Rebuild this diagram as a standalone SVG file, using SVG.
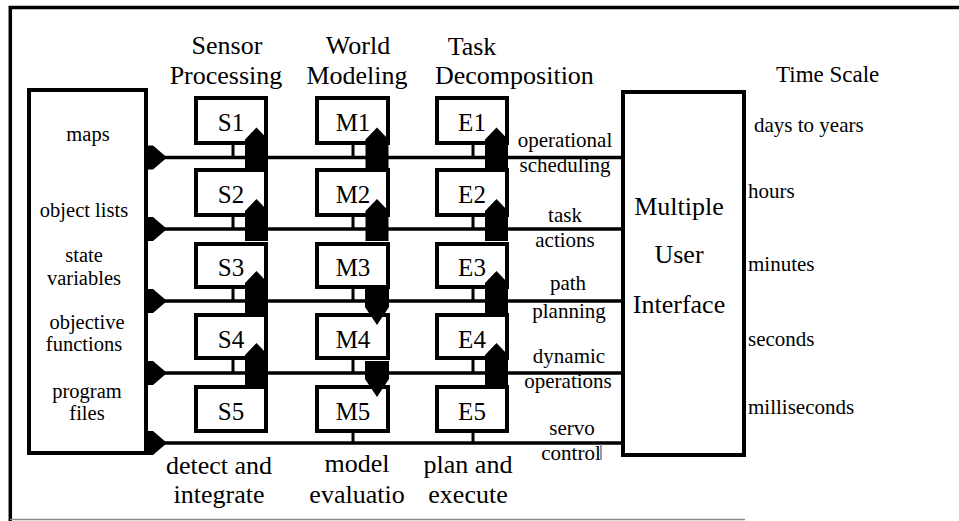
<svg xmlns="http://www.w3.org/2000/svg" width="959" height="521" viewBox="0 0 959 521" font-family="'Liberation Serif', 'Times New Roman', serif">
  <style>
    text { font-family: "Liberation Serif", "Times New Roman", serif; fill: #000; }
    .hd { font-size: 26px; text-anchor: middle; }
    .lb { font-size: 25px; text-anchor: middle; }
    .sm { font-size: 21px; text-anchor: middle; }
    .db { font-size: 20.5px; text-anchor: middle; }
    .ts { font-size: 21px; }
    .box { fill: #fff; stroke: #000; stroke-width: 4; }
    .bus { stroke: #000; stroke-width: 3.5; fill: none; }
    .tick { stroke: #000; stroke-width: 3; fill: none; }
    .blk { fill: #000; }
    .frame { stroke: #000; stroke-width: 3.5; fill: none; }
  </style>
  <defs>
    <!-- block arrows, origin at the bus line they sit on -->
    <path id="up" d="M-11.5,12 V-18 L0,-30 L11.5,-18 V12 Z"/>
    <path id="down" d="M-12,-12 H12 V6 L0,24 L-12,6 Z"/>
    <path id="tap" d="M0,-12 H7 L21,0 L7,12 H0 Z"/>
  </defs>

  <rect width="959" height="521" fill="#fff"/>

  <!-- outer frame -->
  <g id="frame">
    <path class="frame" d="M8.5,7.5 H959 M10.3,6 V521"/>
    <path d="M10,519.5 H745" stroke="#8a8a8a" stroke-width="1.5"/>
  </g>

  <!-- column headings -->
  <g id="headings">
    <text class="hd" x="227" y="54">Sensor</text>
    <text class="hd" x="226" y="84">Processing</text>
    <text class="hd" x="358" y="54">World</text>
    <text class="hd" x="357" y="84">Modeling</text>
    <text class="hd" x="472" y="55">Task</text>
    <text class="hd" x="435" y="84" style="text-anchor:start">Decomposition</text>
    <text x="776" y="82" style="font-size:23px">Time Scale</text>
  </g>

  <!-- knowledge database -->
  <g id="database">
    <rect class="box" x="29" y="90" width="117" height="363"/>
    <text class="db" x="88" y="141">maps</text>
    <text class="db" x="84" y="217">object lists</text>
    <text class="db" x="84" y="262">state</text>
    <text class="db" x="84" y="284.5">variables</text>
    <text class="db" x="87" y="329">objective</text>
    <text class="db" x="84" y="351">functions</text>
    <text class="db" x="87" y="398">program</text>
    <text class="db" x="87" y="420">files</text>
  </g>

  <!-- sensor processing modules -->
  <g id="S1"><rect class="box" x="196" y="98" width="70" height="45"/><text class="lb" x="231" y="131">S1</text></g>
  <g id="S2"><rect class="box" x="196" y="170" width="70" height="45"/><text class="lb" x="231" y="203">S2</text></g>
  <g id="S3"><rect class="box" x="196" y="244" width="70" height="43"/><text class="lb" x="231" y="276">S3</text></g>
  <g id="S4"><rect class="box" x="196" y="315" width="70" height="43"/><text class="lb" x="231" y="348">S4</text></g>
  <g id="S5"><rect class="box" x="196" y="387" width="70" height="44"/><text class="lb" x="231" y="420">S5</text></g>

  <!-- world modeling modules -->
  <g id="M1"><rect class="box" x="317" y="98" width="71" height="45"/><text class="lb" x="353" y="131">M1</text></g>
  <g id="M2"><rect class="box" x="317" y="170" width="71" height="45"/><text class="lb" x="353" y="203">M2</text></g>
  <g id="M3"><rect class="box" x="317" y="244" width="71" height="43"/><text class="lb" x="353" y="276">M3</text></g>
  <g id="M4"><rect class="box" x="317" y="315" width="71" height="43"/><text class="lb" x="353" y="348">M4</text></g>
  <g id="M5"><rect class="box" x="317" y="387" width="71" height="44"/><text class="lb" x="353" y="420">M5</text></g>

  <!-- task decomposition modules -->
  <g id="E1"><rect class="box" x="437" y="98" width="70" height="45"/><text class="lb" x="472" y="131">E1</text></g>
  <g id="E2"><rect class="box" x="437" y="170" width="70" height="45"/><text class="lb" x="472" y="203">E2</text></g>
  <g id="E3"><rect class="box" x="437" y="244" width="70" height="43"/><text class="lb" x="472" y="276">E3</text></g>
  <g id="E4"><rect class="box" x="437" y="315" width="70" height="43"/><text class="lb" x="472" y="348">E4</text></g>
  <g id="E5"><rect class="box" x="437" y="387" width="70" height="44"/><text class="lb" x="472" y="420">E5</text></g>

  <!-- operator interface -->
  <g id="interface">
    <rect class="box" x="623" y="92" width="121" height="363"/>
    <text class="hd" x="679" y="215">Multiple</text>
    <text class="hd" x="679" y="263">User</text>
    <text class="hd" x="679" y="313">Interface</text>
  </g>

  <!-- level names along the buses -->
  <g id="levels">
    <text class="sm" x="565" y="147">operational</text>
    <text class="sm" x="565" y="172">scheduling</text>
    <text class="sm" x="565" y="222">task</text>
    <text class="sm" x="565" y="247">actions</text>
    <text class="sm" x="568" y="290">path</text>
    <text class="sm" x="569" y="318">planning</text>
    <text class="sm" x="569" y="363">dynamic</text>
    <text class="sm" x="568" y="388">operations</text>
    <text class="sm" x="572" y="435">servo</text>
    <text class="sm" x="571" y="460">control</text>
  </g>

  <!-- time scale column -->
  <g id="timescale">
    <text class="ts" x="754" y="132">days to years</text>
    <text class="ts" x="748" y="198">hours</text>
    <text class="ts" x="748" y="271">minutes</text>
    <text class="ts" x="748" y="346">seconds</text>
    <text class="ts" x="748" y="414">milliseconds</text>
  </g>

  <!-- function captions -->
  <g id="captions">
    <text class="hd" x="219" y="474">detect and</text>
    <text class="hd" x="219" y="503">integrate</text>
    <text class="hd" x="357" y="472">model</text>
    <text class="hd" x="357" y="503">evaluatio</text>
    <text class="hd" x="468" y="473">plan and</text>
    <text class="hd" x="468" y="503">execute</text>
  </g>

  <!-- buses, taps and block arrows -->
  <g id="connectors">
    <path class="bus" d="M148,157.5 H623 M148,229 H623 M148,301 H623 M148,373 H623 M148,443 H623"/>
    <path d="M601,444 V460" stroke="#777" stroke-width="1.5"/>
    <g class="tick">
      <path d="M233,145 V157.5 M233,217 V229 M233,289 V301 M233,360 V373"/>
      <path d="M353,145 V157.5 M353,217 V229 M353,289 V301 M353,360 V373 M353,433 V443"/>
      <path d="M473,145 V157.5 M473,217 V229 M473,289 V301 M473,360 V373 M473,433 V443"/>
    </g>
    <g class="blk">
      <use href="#tap" x="146" y="157.5"/>
      <use href="#tap" x="146" y="229"/>
      <use href="#tap" x="146" y="301"/>
      <use href="#tap" x="146" y="373"/>
      <use href="#tap" x="146" y="443"/>

      <use href="#up" x="256.5" y="157.5"/>
      <use href="#up" x="256.5" y="229"/>
      <use href="#up" x="256.5" y="301"/>
      <use href="#up" x="256.5" y="373"/>

      <use href="#up" x="377" y="157.5"/>
      <use href="#up" x="377" y="229"/>
      <use href="#down" x="377" y="301"/>
      <use href="#down" x="377" y="373"/>

      <use href="#up" x="496.5" y="157.5"/>
      <use href="#up" x="496.5" y="229"/>
      <use href="#up" x="496.5" y="301"/>
      <use href="#up" x="496.5" y="373"/>
    </g>
  </g>
</svg>
